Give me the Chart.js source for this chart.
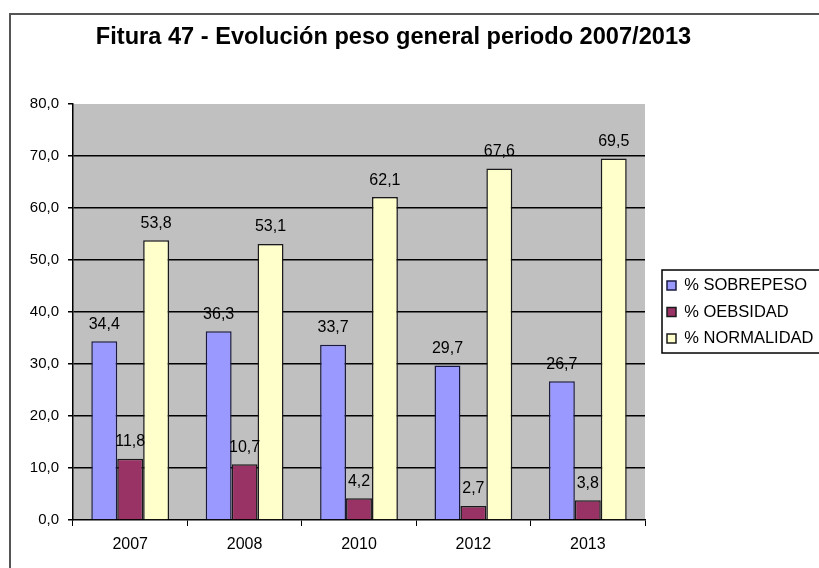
<!DOCTYPE html>
<html><head><meta charset="utf-8">
<script src="https://cdn.jsdelivr.net/npm/chart.js@4.4.1/dist/chart.umd.min.js"></script>
<style>html,body{margin:0;padding:0;background:#fff;overflow:hidden}canvas{display:block}</style>
</head><body>
<canvas id="c" width="819" height="568"></canvas>
<script>
const titleText = 'Fitura 47 - Evolución peso general periodo 2007/2013';
const categories = ['2007', '2008', '2010', '2012', '2013'];
const sobrepeso = [34.4, 36.3, 33.7, 29.7, 26.7];
const obesidad = [11.8, 10.7, 4.2, 2.7, 3.8];
const normalidad = [53.8, 53.1, 62.1, 67.6, 69.5];
const seriesNames = ['% SOBREPESO', '% OEBSIDAD', '% NORMALIDAD'];
const yMin = 0, yMax = 80, yStep = 10;

const FONT = "'Liberation Sans', Arial, sans-serif";
const fmt = v => v.toFixed(1).replace('.', ',');

const framePlugin = {
  id: 'frame',
  beforeDraw(chart) {
    const ctx = chart.ctx, a = chart.chartArea;
    ctx.save();
    ctx.fillStyle = '#ffffff';
    ctx.fillRect(0, 0, chart.width, chart.height);
    ctx.strokeStyle = '#555555';
    ctx.lineWidth = 2;
    ctx.strokeRect(10, 14, chart.width + 20, chart.height + 20);
    ctx.fillStyle = '#c0c0c0';
    ctx.fillRect(a.left, a.top, a.right - a.left, a.bottom - a.top);
    ctx.restore();
    const lg = chart.legend;
    if (lg) {
      lg.left = 657; lg.right = 819; lg.width = 162;
      lg.top = a.top; lg.bottom = a.bottom; lg.height = a.bottom - a.top;
    }
  },
  afterDraw(chart) {
    const lg = chart.legend; if (!lg) return;
    const ctx = chart.ctx;
    const cy = (chart.chartArea.top + chart.chartArea.bottom) / 2;
    ctx.save();
    ctx.strokeStyle = '#000';
    ctx.lineWidth = 1.5;
    ctx.strokeRect(662, cy - 42, 200, 83);
    ctx.restore();
  }
};

const labelPlugin = {
  id: 'vlabels',
  afterDatasetsDraw(chart) {
    const ctx = chart.ctx;
    ctx.save();
    ctx.font = '16px ' + FONT;
    ctx.fillStyle = '#000';
    ctx.textAlign = 'center';
    ctx.textBaseline = 'middle';
    chart.data.datasets.forEach((ds, i) => {
      chart.getDatasetMeta(i).data.forEach((el, j) => {
        ctx.fillText(fmt(ds.data[j]), el.x, el.y - 17);
      });
    });
    ctx.restore();
  }
};

const legendFitPlugin = {
  id: 'legendFit',
  beforeLayout(chart) {
    const lg = chart.legend;
    if (lg && !lg._patched) {
      const f = lg.fit.bind(lg);
      lg.fit = function () { f(); this.width = 142; };
      lg._patched = true;
    }
  }
};

Chart.defaults.color = '#000';
Chart.defaults.font.family = FONT;

new Chart(document.getElementById('c'), {
  type: 'bar',
  data: {
    labels: categories,
    datasets: [
      { label: seriesNames[0], data: sobrepeso, backgroundColor: '#9999ff', borderColor: '#1a1a40', borderWidth: 1.5 },
      { label: seriesNames[1], data: obesidad, backgroundColor: '#993366', borderColor: '#1a1a1a', borderWidth: 1.5 },
      { label: seriesNames[2], data: normalidad, backgroundColor: '#ffffcc', borderColor: '#1a1a1a', borderWidth: 1.5 }
    ]
  },
  options: {
    responsive: false,
    animation: false,
    layout: { padding: { left: 0, right: 32, top: 0, bottom: 0 } },
    datasets: { bar: { categoryPercentage: 0.68, barPercentage: 1.0 } },
    plugins: {
      tooltip: { enabled: false },
      title: {
        display: true, text: titleText, color: '#000',
        font: { size: 23.6, weight: 'bold', family: FONT, lineHeight: 1.2 },
        padding: { top: 23.8, bottom: 51.9 }
      },
      legend: {
        position: 'right',
        labels: { boxWidth: 9, boxHeight: 9, padding: 10, color: '#000', font: { size: 16.5, family: FONT } }
      }
    },
    scales: {
      x: {
        grid: { display: true, drawOnChartArea: false, drawTicks: true, tickLength: 6, color: '#000', offset: true },
        border: { display: true, color: '#000', width: 1.5 },
        ticks: { padding: 9, color: '#000', font: { size: 16 } },
        afterFit(s) { s.height = 48; }
      },
      y: {
        min: yMin, max: yMax,
        grid: {
          color: c => (c.tick && (c.tick.value === yMax || c.tick.value === yMin)) ? 'rgba(0,0,0,0)' : '#000',
          lineWidth: 1.5, tickLength: 5, tickColor: '#000'
        },
        border: { display: true, color: '#000', width: 1.5 },
        ticks: { stepSize: yStep, padding: 9, color: '#000', font: { size: 15 }, callback: v => fmt(v) },
        afterFit(s) { s.width = 73; }
      }
    }
  },
  plugins: [legendFitPlugin, framePlugin, labelPlugin]
});
</script>
</body></html>
